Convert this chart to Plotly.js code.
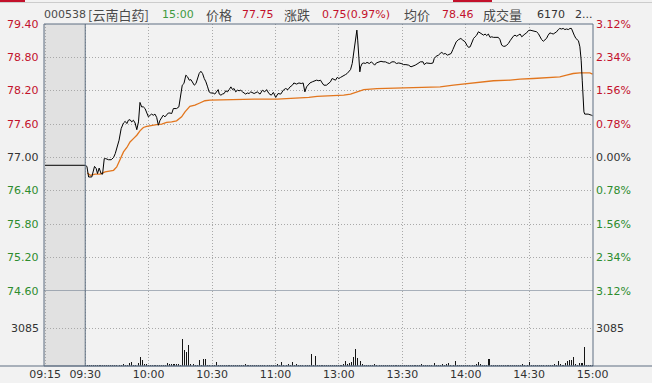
<!DOCTYPE html>
<html><head><meta charset="utf-8">
<script src="https://cdn.plot.ly/plotly-3.0.1.min.js"></script>
<style>html,body{margin:0;padding:0;background:#f2f2f2;overflow:hidden}#chart{width:652px;height:383px}</style>
</head><body><div id="chart"></div>
<script>
// ---------- data ----------
const prevClose = 77.00;
// minutes after 09:30 (negative = call auction 09:15-09:30), price
const priceTime = [-19,0,0.8,1.6,3.1,4.4,5.2,5.8,6.6,7.5,8.2,9.0,9.7,11.0,12.3,13.4,14.2,15.3,16.0,17.0,18.1,18.9,19.7,20.4,21.2,22.0,22.8,23.6,24.4,25.2,25.9,26.7,27.5,28.3,29.1,29.9,30.7,31.4,32.2,33.0,33.8,34.6,35.4,36.2,36.9,37.7,38.5,39.3,40.1,40.9,41.7,42.5,43.2,44.3,45.1,45.9,46.7,47.6,48.4,49.2,50.0,50.8,51.6,52.4,53.1,53.9,54.7,55.5,56.3,57.1,57.9,58.6,59.4,60.5,61.3,62.1,62.9,63.4,64.2,64.9,65.7,66.5,67.3,68.1,68.9,69.7,70.4,71.2,72.0,72.8,73.6,74.4,75.2,75.9,76.7,77.5,78.3,
79.9,81.4,82.7,83.8,84.9,85.8,86.9,88.0,89.0,90.1,91.2,92.5,93.7,94.8,95.9,96.9,98.0,98.7,100.0,101.1,102.2,103.1,103.9,104.7,105.3,106.3,107.4,108.5,109.4,110.5,111.3,112.1,112.9,114.1,115.2,116.0,116.8,117.6,118.4,119.2,120.0,120.8,121.5,122.3,123.1,123.9,124.7,125.5,126.3,127.0,127.8,128.5,128.9,129.4,129.9,130.3,131.0,131.8,132.5,133.3,134.4,135.4,136.2,136.9,137.7,138.8,139.9,140.9,142.0,143.1,144.0,145.1,146.2,147.2,148.3,149.4,150.6,151.7,153.0,154.1,155.0,156.1,157.4,158.5,
159.8,160.4,161.3,162.4,163.5,164.5,165.1,166.0,167.1,167.9,168.7,169.5,170.3,171.4,172.3,173.1,173.9,174.7,175.5,176.6,177.7,178.6,179.7,180.5,181.3,182.1,182.9,183.7,184.4,185.2,186.0,186.8,187.6,188.4,189.2,189.9,190.7,191.5,192.3,193.1,194.3,195.4,196.2,197.0,197.8,198.6,199.4,200.2,201.0,201.7,202.5,203.3,204.1,204.9,205.7,206.5,207.2,208.0,208.8,209.6,210.4,211.6,212.7,213.5,214.3,215.1,215.9,216.7,217.5,218.2,219.0,219.8,220.6,221.4,222.2,223.0,223.8,224.5,225.3,226.1,226.9,227.7,228.5,229.3,230.0,230.5,231.3,232.1,232.7,233.3,234.0,234.6,235.1,235.5,235.9,236.3,237.9,239.5,240.0];
const priceValue = [76.86,76.86,76.84,76.65,76.65,76.84,76.80,76.71,76.81,76.71,76.70,76.98,76.98,76.96,76.96,77.00,77.07,77.20,77.31,77.52,77.62,77.65,77.61,77.67,77.68,77.64,77.67,77.62,77.50,77.64,77.99,77.91,77.91,77.88,77.82,77.73,77.76,77.78,77.76,77.78,77.72,77.58,77.67,77.73,77.76,77.73,77.76,77.80,77.80,77.79,77.88,77.88,77.88,77.91,78.09,78.30,78.33,78.48,78.45,78.39,78.40,78.36,78.30,78.33,78.42,78.51,78.55,78.51,78.42,78.36,78.27,78.18,78.16,78.16,78.14,78.18,78.22,78.14,78.12,78.14,78.15,78.20,78.18,78.22,78.27,78.22,78.24,78.18,78.21,78.20,78.21,78.18,78.16,78.14,78.16,78.15,78.18,
78.15,78.18,78.14,78.21,78.18,78.22,78.15,78.12,78.17,78.08,78.15,78.14,78.21,78.24,78.22,78.27,78.30,78.34,78.32,78.34,78.33,78.34,78.18,78.27,78.30,78.34,78.36,78.38,78.39,78.38,78.39,78.34,78.30,78.30,78.33,78.36,78.42,78.40,78.39,78.44,78.42,78.44,78.46,78.48,78.49,78.51,78.54,78.58,78.69,78.90,79.14,79.29,79.11,78.81,78.54,78.63,78.69,78.70,78.69,78.71,78.69,78.72,78.69,78.66,78.70,78.72,78.73,78.72,78.72,78.70,78.69,78.72,78.72,78.69,78.70,78.69,78.67,78.67,78.66,78.63,78.64,78.66,78.69,78.72,
78.72,78.67,78.70,78.69,78.69,78.70,78.78,78.82,78.84,78.87,78.89,78.86,78.87,78.84,78.85,78.87,78.94,79.02,79.08,79.12,79.14,79.11,79.08,79.02,78.98,78.99,79.08,79.14,79.17,79.20,79.26,79.24,79.23,79.20,79.22,79.19,79.22,79.16,79.17,79.16,79.16,79.16,79.12,79.02,79.00,79.00,79.02,79.05,79.10,79.14,79.18,79.20,79.18,79.20,79.22,79.17,79.20,79.22,79.24,79.28,79.29,79.28,79.27,79.26,79.23,79.17,79.12,79.09,79.11,79.14,79.20,79.24,79.23,79.22,79.24,79.26,79.30,79.32,79.31,79.32,79.30,79.31,79.30,79.32,79.32,79.26,79.20,79.14,79.12,79.10,78.99,78.75,78.39,78.03,77.82,77.78,77.78,77.76,77.75];
// average price line
const avgTime = [1.0,2.4,4.7,7.1,9.4,11.8,13.4,14.9,16.5,18.1,19.7,21.2,22.8,24.4,25.9,27.5,29.1,31.4,33.8,36.2,38.5,40.9,43.2,45.6,47.2,49.5,51.9,54.2,56.6,59.0,66.0,80.2,90.9,97.2,105.8,109.7,120.0,122.3,125.5,128.6,131.8,138.0,145.9,158.5,167.9,174.2,180.5,186.8,193.1,201.0,205.7,212.0,218.2,224.5,227.7,230.8,234.0,238.7,240.0];
const avgValue = [76.72,76.68,76.70,76.70,76.74,76.76,76.77,76.83,76.95,77.10,77.18,77.28,77.34,77.40,77.48,77.54,77.56,77.58,77.59,77.60,77.63,77.64,77.66,77.73,77.82,77.92,77.94,77.98,78.02,78.03,78.04,78.05,78.05,78.06,78.08,78.10,78.11,78.12,78.14,78.18,78.22,78.24,78.25,78.26,78.27,78.30,78.33,78.36,78.38,78.39,78.41,78.42,78.44,78.45,78.48,78.51,78.52,78.52,78.50];
// volume per minute, 09:30 .. 15:00 (241 bars)
const volume = [
 90,60,70,60,80,60,70,90,60,80,
 70,60,80,90,70,100,80,120,170,90,
 110,220,330,120,90,250,780,500,150,160,
 110,80,70,90,60,80,70,60,90,220,
 200,170,180,130,160,110,2250,1330,1170,1750,
 170,160,90,120,500,110,560,560,100,80,
 90,70,330,110,90,80,100,70,90,60,
 80,100,70,90,60,80,170,90,60,80,
 100,90,70,60,80,90,100,70,80,60,
 90,150,80,330,120,90,170,80,310,100,
 170,90,80,120,90,80,100,1000,90,830,
 80,70,90,60,80,70,90,80,60,100,
 80,120,200,450,150,220,330,780,1390,640,
 450,140,120,90,100,120,90,150,80,90,
 70,100,80,90,60,80,100,90,70,80,
 60,80,90,100,70,120,80,90,60,150,
 80,100,90,70,80,220,90,80,60,150,
 80,200,230,100,90,450,120,80,90,70,
 100,90,120,80,70,150,360,200,90,80,
 70,560,120,80,90,100,70,80,90,60,
 80,90,100,70,80,120,90,170,80,100,
 360,90,80,70,100,80,90,120,80,70,
 100,90,170,120,390,150,120,250,450,500,
 500,720,170,110,250,250,1560,80,60,70,80];
const priceTicks = [79.40,78.80,78.20,77.60,77.00,76.40,75.80,75.20,74.60];
const priceTickText = ['79.40','78.80','78.20','77.60','77.00','76.40','75.80','75.20','74.60'];
const pctTickText = ['3.12%','2.34%','1.56%','0.78%','0.00%','0.78%','1.56%','2.34%','3.12%'];
const volTicks = [3085];
const volTickText = ['3085'];
const volMax = 6170;
const timeTicks = [-19,0,30,60,90,120,150,180,210,240];
const timeTickText = ['09:15','09:30','10:00','10:30','11:00','13:00','13:30','14:00','14:30','15:00'];
const headerText = ['000538','[云南白药]','15:00','价格','77.75','涨跌','0.75(0.97%)','均价','78.46','成交量','6170','2...'];

// ---------- styling / layout ----------
const RED='#c3112b', GREEN='#2d8c2d', DARK='#333333', LABEL='#4a4a4a', BORDER='#5f6f82';
const W=652,H=383,L=44,R=59,T=24,B=17;
const pw=W-L-R, ph=H-T-B;
const px = x => (x-L)/pw;           // pixel -> paper x
const py = y => (H-B-y)/ph;         // pixel -> paper y
const volDomTop = 75/ph;
const tickColor = v => v>prevClose?RED:(v<prevClose?GREEN:DARK);
const FONT='DejaVu Sans, Verdana, sans-serif';
const CJK='"Noto Sans CJK SC", sans-serif';
const FS=11;

const volTime = volume.map((_,i)=>i);
const traces = [
 {type:'bar', x:volTime, y:volume, xaxis:'x', yaxis:'y2', width:0.5, marker:{color:'#141414', line:{width:0}}, hoverinfo:'skip'},
 {type:'scatter', mode:'lines', x:avgTime, y:avgValue, xaxis:'x', yaxis:'y', line:{color:'#e2761e', width:1.3}, hoverinfo:'skip'},
 {type:'scatter', mode:'lines', x:priceTime, y:priceValue, xaxis:'x', yaxis:'y', line:{color:'#000000', width:1}, hoverinfo:'skip'}
];

const ann = [];
priceTicks.forEach((v,i)=>{
  ann.push({xref:'paper', yref:'y', x:px(41), y:v, xanchor:'right', yanchor:'middle', showarrow:false,
    text:priceTickText[i], font:{family:FONT, size:FS, color:tickColor(v)}});
  ann.push({xref:'paper', yref:'y', x:px(594), y:v, xanchor:'left', yanchor:'middle', showarrow:false,
    text:pctTickText[i], font:{family:FONT, size:FS, color:tickColor(v)}});
});
volTicks.forEach((v,i)=>{
  ann.push({xref:'paper', yref:'y2', x:px(41), y:v, xanchor:'right', yanchor:'middle', showarrow:false,
    text:volTickText[i], font:{family:FONT, size:FS, color:DARK}});
  ann.push({xref:'paper', yref:'y2', x:px(594), y:v, xanchor:'left', yanchor:'middle', showarrow:false,
    text:volTickText[i], font:{family:FONT, size:FS, color:DARK}});
});
const headerX = [42,86,160,204,240,282,320,402,440,481,535,573];
const headerColor = [LABEL,LABEL,'#3f9a3f',LABEL,RED,LABEL,RED,LABEL,RED,LABEL,DARK,DARK];
const headerCJK = [false,true,false,true,false,true,false,true,false,true,false,false];
headerText.forEach((t,i)=>{
  ann.push({xref:'paper', yref:'paper', x:px(headerX[i]), y:py(14), xanchor:'left', yanchor:'middle', showarrow:false,
    text:t, font:{family:headerCJK[i]?CJK:FONT, size:headerCJK[i]?13:FS, color:headerColor[i]}});
});

const shapes = [
 {type:'rect', xref:'x', yref:'paper', x0:-19.5, x1:0, y0:0, y1:1, fillcolor:'#e1e1e1', line:{width:0}, layer:'below'},
 {type:'line', xref:'x', yref:'paper', x0:0, x1:0, y0:0, y1:1, line:{color:BORDER, width:1}},
 {type:'line', xref:'paper', yref:'y', x0:0, x1:1, y0:74.6, y1:74.6, line:{color:BORDER, width:1}},
 {type:'rect', xref:'paper', yref:'paper', x0:0, x1:1, y0:0, y1:1, line:{color:BORDER, width:1}},
 {type:'line', xref:'paper', yref:'paper', x0:px(0), x1:px(W), y0:0, y1:0, line:{color:BORDER, width:1}},
 {type:'line', xref:'paper', yref:'paper', x0:px(0), x1:px(W), y0:py(2.5), y1:py(2.5), line:{color:'#cccccc', width:1}},
 {type:'rect', xref:'paper', yref:'paper', x0:px(0), x1:px(25), y0:py(2), y1:py(0), fillcolor:'#c3112b', line:{width:0}},
 {type:'rect', xref:'paper', yref:'paper', x0:px(453), x1:px(492), y0:py(2), y1:py(0), fillcolor:'#c3112b', line:{width:0}}
];

const grid = {showgrid:true, gridcolor:'#a9a9a9', griddash:'1px,2px', gridwidth:1, zeroline:false, showline:false, ticks:''};
const layout = {
  width:W, height:H, margin:{l:L, r:R, t:T, b:B, pad:0},
  paper_bgcolor:'#f2f2f2', plot_bgcolor:'#f2f2f2', showlegend:false, bargap:0,
  xaxis:Object.assign({anchor:'y2', range:[-19.5,240.2], tickmode:'array', tickvals:timeTicks, ticktext:timeTickText,
    tickfont:{family:FONT, size:FS, color:DARK}, fixedrange:true}, grid),
  yaxis:Object.assign({anchor:'x', domain:[volDomTop,1], range:[74.6,79.4], tickmode:'array', tickvals:priceTicks,
    showticklabels:false, fixedrange:true}, grid),
  yaxis2:Object.assign({anchor:'x', domain:[0,volDomTop], range:[0,volMax], tickmode:'array', tickvals:volTicks,
    showticklabels:false, fixedrange:true}, grid),
  annotations:ann, shapes:shapes
};
Plotly.newPlot('chart', traces, layout, {staticPlot:true, displayModeBar:false});
</script></body></html>
